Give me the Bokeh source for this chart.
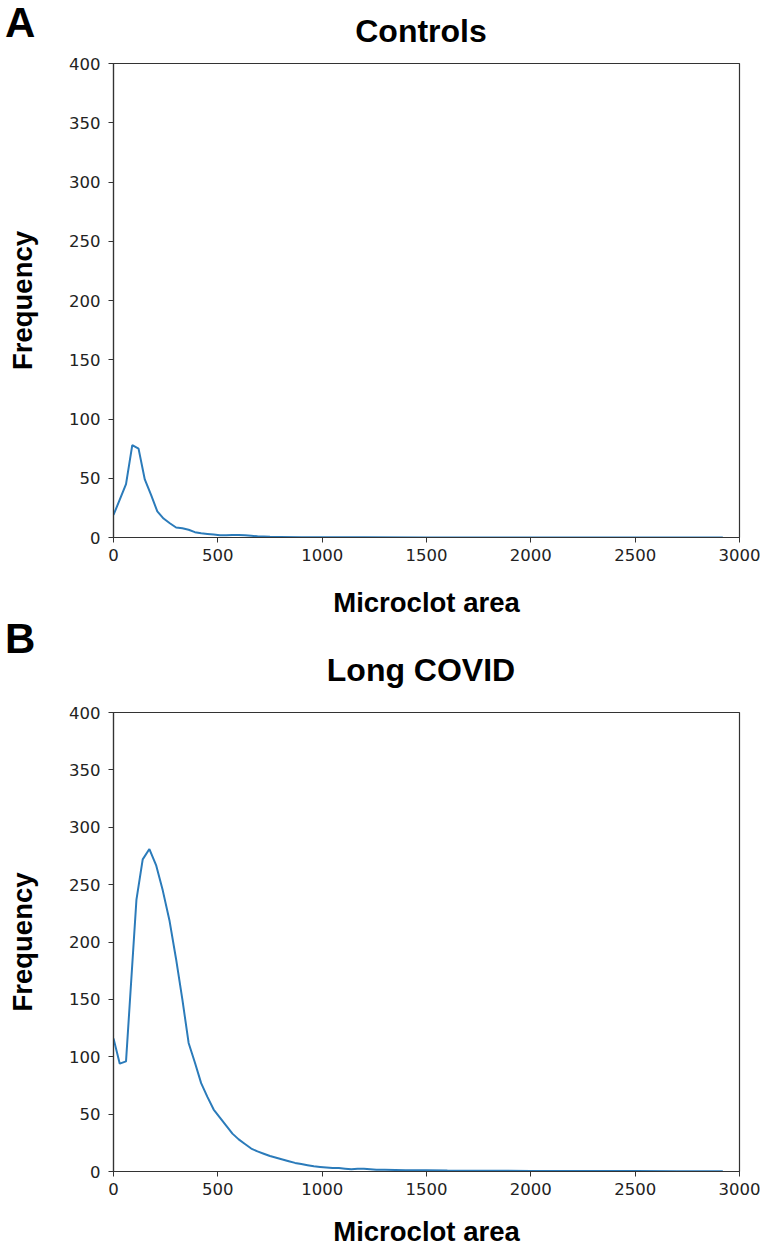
from bokeh.plotting import figure
from bokeh.models import Range1d, FixedTicker, Div
from bokeh.layouts import column
from bokeh.embed import file_html
from bokeh.resources import INLINE

# ---------------- data ----------------
ctrl_x = [0, 30, 60, 90, 120, 150, 180, 210, 240, 270, 300, 330, 360, 390, 420,
          450, 480, 510, 540, 570, 600, 630, 660, 690, 720, 750, 800, 900, 1000,
          1200, 1500, 2000, 2500, 2920]
ctrl_y = [19, 32, 45, 78, 75, 49, 36, 22, 16, 12, 8.4, 7.8, 6.5, 4.5, 3.5,
          3, 2.5, 2, 1.8, 2.2, 2.2, 2, 1.5, 1, 0.8, 0.6, 0.5, 0.3, 0.2,
          0.2, 0.1, 0.1, 0.1, 0.1]

lc_x = [0, 30, 60, 110, 140, 172, 204, 236, 268, 300, 330, 360, 390, 420, 450,
        480, 510, 540, 570, 600, 630, 660, 690, 720, 750, 780, 810, 840, 870,
        900, 930, 960, 990, 1020, 1050, 1080, 1110, 1140, 1170, 1200, 1230,
        1260, 1300, 1400, 1500, 1600, 1800, 2000, 2200, 2500, 2700, 2920]
lc_y = [116, 94, 96, 237, 272, 281, 267, 245, 219, 185, 150, 112, 95, 77, 65,
        54, 47, 40, 33, 28, 24, 20, 17.5, 15.5, 13.5, 12, 10.5, 9, 7.5,
        6.5, 5.5, 4.5, 4, 3.5, 3, 3, 2.5, 2, 2.5, 2.5, 2,
        1.5, 1.5, 1, 1, 0.8, 0.6, 0.5, 0.5, 0.4, 0.3, 0.3]

x_ticks = [0, 500, 1000, 1500, 2000, 2500, 3000]
y_ticks = [0, 50, 100, 150, 200, 250, 300, 350, 400]

panel_titles = ["Controls", "Long COVID"]
panel_letters = ["A", "B"]
x_label = "Microclot area"
y_label = "Frequency"

LINE = "#2b7bba"
DARK = "#333333"
BOLD_FONT = "Liberation Sans"
TICK_FONT = "DejaVu Sans"
W = 760


def make_header(height, letter, letter_top, title, title_cx, title_top):
    # HTML strip above each panel holding the panel letter and the title
    html = (
        f'<div style="position:relative;width:{W}px;height:{height}px;'
        f"font-family:'{BOLD_FONT}';font-weight:bold;color:black;"
        f'overflow:visible;">'
        f'<span style="position:absolute;left:5px;top:{letter_top}px;'
        f'font-size:42px;line-height:1.1;white-space:nowrap;">{letter}</span>'
        f'<span style="position:absolute;left:{title_cx}px;top:{title_top}px;'
        f'transform:translateX(-50%);font-size:32px;line-height:1;'
        f'white-space:nowrap;">{title}</span>'
        f'</div>'
    )
    return Div(text=html, width=W, height=height, margin=0)


def make_panel(xs, ys, height, left, right, top, bottom,
               xlab_standoff, ylab_standoff):
    p = figure(width=W, height=height, output_backend="svg",
               toolbar_location=None, title=None,
               x_range=Range1d(0, 3000), y_range=Range1d(0, 400),
               min_border_left=left, min_border_right=right,
               min_border_top=top, min_border_bottom=bottom)
    p.line(xs, ys, line_color=LINE, line_width=2)

    p.grid.visible = False
    p.outline_line_color = DARK
    p.outline_line_width = 1.2
    p.outline_line_alpha = 1

    for ax in (p.xaxis[0], p.yaxis[0]):
        ax.axis_line_color = DARK
        ax.axis_line_width = 1.2
        ax.major_tick_line_color = DARK
        ax.major_tick_out = 5
        ax.major_tick_in = 0
        ax.minor_tick_line_color = None
        ax.major_label_text_font = TICK_FONT
        ax.major_label_text_font_size = "16.5px"
        ax.major_label_text_color = "#222222"
        ax.axis_label_text_font = BOLD_FONT
        ax.axis_label_text_font_style = "bold"
        ax.axis_label_text_font_size = "27.5px"
        ax.axis_label_text_color = "black"

    p.xaxis[0].ticker = FixedTicker(ticks=x_ticks)
    p.yaxis[0].ticker = FixedTicker(ticks=y_ticks)
    p.xaxis[0].major_label_standoff = 6
    p.yaxis[0].major_label_standoff = 8
    p.xaxis[0].axis_label = x_label
    p.yaxis[0].axis_label = y_label
    p.xaxis[0].axis_label_standoff = xlab_standoff
    p.yaxis[0].axis_label_standoff = ylab_standoff
    return p


ha = make_header(50, panel_letters[0], 0, panel_titles[0], 421, 15)
pa = make_panel(ctrl_x, ctrl_y, height=570, left=113, right=21, top=13,
                bottom=80, xlab_standoff=23, ylab_standoff=28)
hb = make_header(70, panel_letters[1], -4, panel_titles[1], 421, 34)
pb = make_panel(lc_x, lc_y, height=559, left=113, right=21, top=22,
                bottom=78, xlab_standoff=18, ylab_standoff=28)

layout = column(ha, pa, hb, pb, spacing=0)
open("out.html", "w").write(file_html(layout, INLINE))
